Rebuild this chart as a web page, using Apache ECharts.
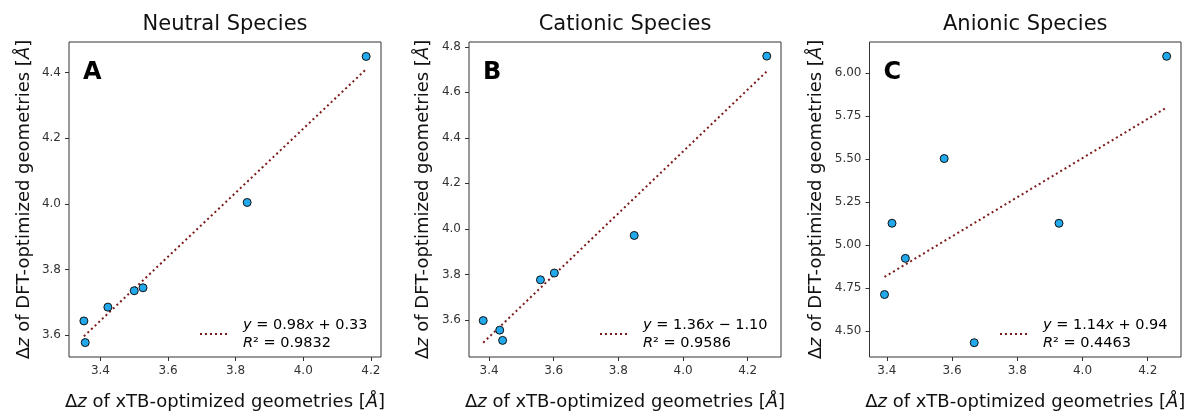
<!DOCTYPE html>
<html>
<head>
<meta charset="utf-8">
<script src="https://cdn.jsdelivr.net/npm/echarts@6/dist/echarts.min.js"></script>
<style>
html,body{margin:0;padding:0;background:#fff;}
#chart{width:1190px;height:416px;}
</style>
</head>
<body>
<div id="chart"></div>
<script>
// ---- data ----
const panelTitles = ['Neutral Species', 'Cationic Species', 'Anionic Species'];
const panelLetters = ['A', 'B', 'C'];

const xtbNeutral = [4.186, 3.834, 3.526, 3.500, 3.422, 3.351, 3.355];
const dftNeutral = [4.449, 4.004, 3.744, 3.735, 3.685, 3.643, 3.577];
const xtbCationic = [4.259, 3.849, 3.602, 3.559, 3.382, 3.433, 3.442];
const dftCationic = [4.759, 3.971, 3.806, 3.776, 3.597, 3.555, 3.510];
const xtbAnionic = [4.258, 3.928, 3.576, 3.416, 3.457, 3.393, 3.668];
const dftAnionic = [6.098, 5.128, 5.504, 5.128, 4.924, 4.714, 4.434];

// fitted trend lines: [x start, x end], [y start, y end]
const fitXNeutral = [3.351, 4.186];
const fitYNeutral = [3.596, 4.410];
const fitXCationic = [3.382, 4.259];
const fitYCationic = [3.500, 4.692];
const fitXAnionic = [3.393, 4.258];
const fitYAnionic = [4.816, 5.800];

const eqNeutral = { slope: '0.98', sign: '+', icpt: '0.33', r2: '0.9832' };
const eqCationic = { slope: '1.36', sign: '\u2212', icpt: '1.10', r2: '0.9586' };
const eqAnionic = { slope: '1.14', sign: '+', icpt: '0.94', r2: '0.4463' };

// tick labels
const xTicks = [3.4, 3.6, 3.8, 4.0, 4.2];
const yTicksNeutral = [3.6, 3.8, 4.0, 4.2, 4.4];
const yTicksCationic = [3.6, 3.8, 4.0, 4.2, 4.4, 4.6, 4.8];
const yTicksAnionic = [4.50, 4.75, 5.00, 5.25, 5.50, 5.75, 6.00];

// axis ranges
const xRanges = [[3.307, 4.230], [3.338, 4.303], [3.347, 4.302]];
const yRanges = [[3.533, 4.493], [3.437, 4.821], [4.351, 6.181]];

// ---- layout ----
const FONT = 'DejaVu Sans';
const grids = [
  { left: 69, top: 42, width: 312, height: 323.5 },
  { left: 469, top: 42, width: 312, height: 323.5 },
  { left: 869.5, top: 42, width: 311.5, height: 323.5 }
];
const yNameGaps = [36, 37, 44];
const yDecimals = [1, 1, 2];

const panels = [
  { xs: xtbNeutral, ys: dftNeutral, fx: fitXNeutral, fy: fitYNeutral, eq: eqNeutral, yt: yTicksNeutral },
  { xs: xtbCationic, ys: dftCationic, fx: fitXCationic, fy: fitYCationic, eq: eqCationic, yt: yTicksCationic },
  { xs: xtbAnionic, ys: dftAnionic, fx: fitXAnionic, fy: fitYAnionic, eq: eqAnionic, yt: yTicksAnionic }
];

const richName = {
  n: { fontSize: 18, fontFamily: FONT, color: '#111' },
  i: { fontSize: 18, fontFamily: FONT, fontStyle: 'italic', color: '#111' }
};
const richLegend = {
  n: { fontSize: 14.5, fontFamily: FONT, color: '#111' },
  i: { fontSize: 14.5, fontFamily: FONT, fontStyle: 'italic', color: '#111' }
};

const xAxes = [], yAxes = [], series = [], graphics = [];

panels.forEach((p, k) => {
  const g = grids[k];
  xAxes.push({
    type: 'value', gridIndex: k, min: xRanges[k][0], max: xRanges[k][1],
    axisLine: { show: false },
    axisTick: { show: true, length: 4, customValues: xTicks, lineStyle: { color: '#333', width: 1 } },
    axisLabel: { customValues: xTicks, formatter: v => v.toFixed(1), fontSize: 12, fontFamily: FONT, color: '#333', margin: 8 },
    splitLine: { show: false },
    name: '{n|\u0394}{i|z}{n| of xTB-optimized geometries [}{i|\u00C5}{n|]}',
    nameLocation: 'middle', nameGap: 36,
    nameTextStyle: { fontSize: 18, fontFamily: FONT, color: '#111', rich: richName }
  });
  yAxes.push({
    type: 'value', gridIndex: k, min: yRanges[k][0], max: yRanges[k][1],
    axisLine: { show: false },
    axisTick: { show: true, length: 4, customValues: p.yt, lineStyle: { color: '#333', width: 1 } },
    axisLabel: { customValues: p.yt, formatter: v => v.toFixed(yDecimals[k]), fontSize: 12, fontFamily: FONT, color: '#333', margin: 8 },
    splitLine: { show: false },
    name: '{n|\u0394}{i|z}{n| of DFT-optimized geometries [}{i|\u00C5}{n|]}',
    nameLocation: 'middle', nameGap: yNameGaps[k], nameRotate: 90,
    nameTextStyle: { fontSize: 18, fontFamily: FONT, color: '#111', rich: richName }
  });
  series.push({
    type: 'line', xAxisIndex: k, yAxisIndex: k,
    data: p.fx.map((x, i) => [x, p.fy[i]]),
    showSymbol: false, symbol: 'none', silent: true,
    lineStyle: { color: '#7b1a1a', width: 2, type: [2, 3] },
    z: 2
  });
  series.push({
    type: 'scatter', xAxisIndex: k, yAxisIndex: k,
    data: p.xs.map((x, i) => [x, p.ys[i]]),
    symbol: 'circle', symbolSize: 8,
    itemStyle: { color: '#22a9ec', borderColor: '#111', borderWidth: 1, opacity: 1 },
    z: 3
  });

  const right = g.left + g.width;
  const cx = g.left + g.width / 2;
  graphics.push({
    type: 'text', x: cx, y: 25,
    style: { text: panelTitles[k], font: '21px "DejaVu Sans"', fill: '#111', textAlign: 'center', textVerticalAlign: 'middle' }
  });
  graphics.push({
    type: 'text', x: g.left + 14, y: 73,
    style: { text: panelLetters[k], font: 'bold 24px "DejaVu Sans"', fill: '#000', textAlign: 'left', textVerticalAlign: 'middle' }
  });
  graphics.push({
    type: 'line', shape: { x1: right - 181, y1: 334, x2: right - 151, y2: 334 },
    style: { stroke: '#7b1a1a', lineWidth: 2, lineDash: [2, 3] }
  });
  graphics.push({
    type: 'text', x: right - 138, y: 325,
    style: {
      text: '{i|y}{n| = ' + p.eq.slope + '}{i|x}{n| ' + p.eq.sign + ' ' + p.eq.icpt + '}',
      rich: richLegend, textAlign: 'left', textVerticalAlign: 'middle'
    }
  });
  graphics.push({
    type: 'text', x: right - 138, y: 343,
    style: {
      text: '{i|R}{n|\u00B2 = ' + p.eq.r2 + '}',
      rich: richLegend, textAlign: 'left', textVerticalAlign: 'middle'
    }
  });
});

const chart = echarts.init(document.getElementById('chart'), null, { renderer: 'canvas' });
chart.setOption({
  animation: false,
  backgroundColor: '#fff',
  grid: grids.map(g => Object.assign({ show: true, borderColor: '#333', borderWidth: 1, backgroundColor: 'transparent' }, g)),
  xAxis: xAxes,
  yAxis: yAxes,
  series: series,
  graphic: graphics
});
</script>
</body>
</html>
